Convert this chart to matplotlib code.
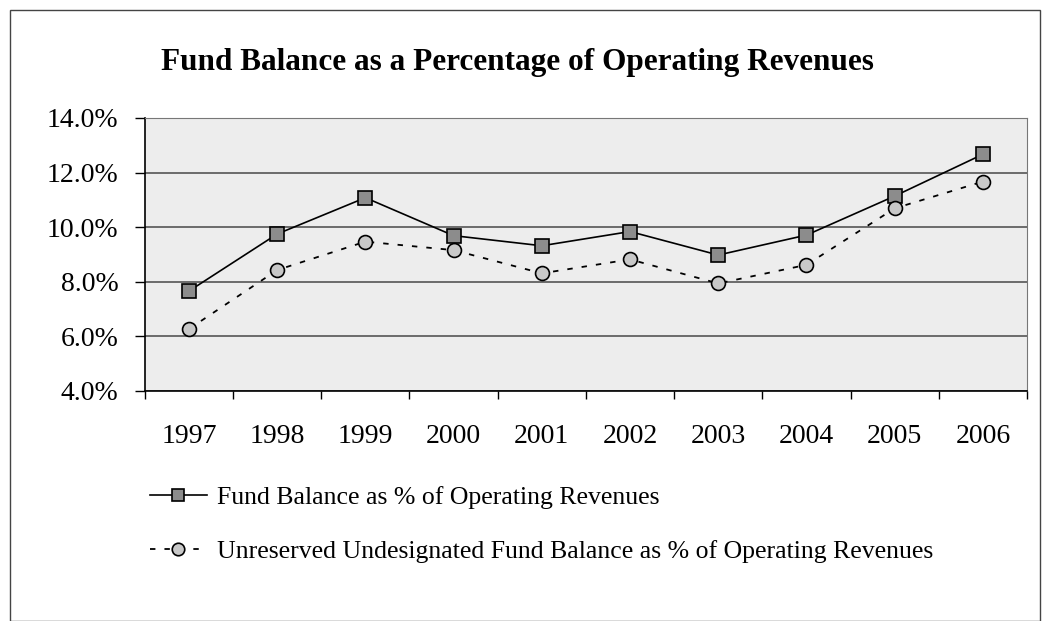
from matplotlib import pyplot as plt
from matplotlib.patches import Rectangle
from matplotlib.ticker import FuncFormatter, FixedLocator
import numpy as np

years = ['1997', '1998', '1999', '2000', '2001', '2002', '2003', '2004', '2005', '2006']
fund_balance = [7.66, 9.75, 11.08, 9.69, 9.32, 9.84, 8.98, 9.71, 11.14, 12.67]
unreserved = [6.27, 8.43, 9.47, 9.16, 8.31, 8.82, 7.94, 8.62, 10.69, 11.67]

plt.rcParams['font.family'] = ['Liberation Serif', 'DejaVu Serif']

fig = plt.figure(figsize=(10.42, 6.21), dpi=100)
ax = fig.add_axes([0.139, 0.3704, 0.8466, 0.4396])

x = np.arange(len(years))
ax.set_facecolor('#ededed')

ax.plot(x, fund_balance, color='black', linewidth=1.2, marker='s',
        markersize=10, markerfacecolor='#8c8c8c', markeredgecolor='black',
        markeredgewidth=1.2, label='Fund Balance as % of Operating Revenues',
        zorder=3)
ax.plot(x, unreserved, color='black', linewidth=1.3, linestyle=(0, (3, 5)),
        marker='o', markersize=10, markerfacecolor='#c8c8c8',
        markeredgecolor='black', markeredgewidth=1.2,
        label='Unreserved Undesignated Fund Balance as % of Operating Revenues',
        zorder=3)

ax.set_xlim(-0.5, len(years) - 0.5)
ax.set_ylim(4, 14)
ax.set_yticks([4, 6, 8, 10, 12, 14])
ax.yaxis.set_major_formatter(FuncFormatter(lambda v, _: f'{v:.1f}%'))
ax.yaxis.grid(True, color='#555555', linewidth=1.2)
ax.set_axisbelow(True)

ax.set_xticks(x)
ax.set_xticklabels(years)
ax.xaxis.set_minor_locator(FixedLocator(np.arange(-0.5, len(years), 1.0)))
ax.tick_params(axis='x', which='major', length=0, pad=24, labelsize=20)
ax.tick_params(axis='x', which='minor', length=6, width=1, color='black')
ax.tick_params(axis='y', length=7, width=1, pad=12, labelsize=20)

for side in ['top', 'right']:
    ax.spines[side].set_color('#777777')
for side in ['left', 'bottom']:
    ax.spines[side].set_color('black')
    ax.spines[side].set_linewidth(1.2)

fig.text(0.497, 0.9, 'Fund Balance as a Percentage of Operating Revenues',
         ha='center', va='center', fontsize=22.5, fontweight='bold')

leg = fig.legend(loc='center left', bbox_to_anchor=(0.144, 0.155), frameon=False,
                 fontsize=18.5, handlelength=2.2, labelspacing=1.2,
                 handletextpad=0.4, borderpad=0, borderaxespad=0,
                 markerscale=0.9)

fig.patches.append(Rectangle((0.01, 0.0), 0.988, 0.984, transform=fig.transFigure,
                             fill=False, edgecolor='#444444', linewidth=1))

fig.savefig('out.png', dpi=100)
